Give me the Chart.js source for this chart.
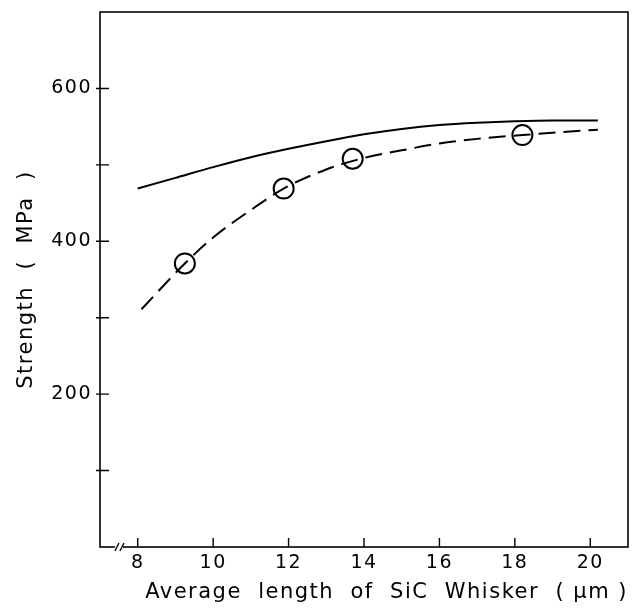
<!DOCTYPE html>
<html>
<head>
<meta charset="utf-8">
<script src="https://cdn.jsdelivr.net/npm/chart.js@4"></script>
<style>
  html, body { margin: 0; padding: 0; background: #fff; }
  #wrap { width: 632px; height: 608px; }
</style>
</head>
<body>
<div id="wrap"><canvas id="strengthChart" width="632" height="608"></canvas></div>
<script>
// Data
const solidX = [8, 9, 10, 11, 12, 13, 14, 15, 16, 17, 18, 19, 20.2];
const solidY = [469, 483, 497, 510, 521, 531, 540, 547, 552, 555, 557, 558, 558];

const dashX = [8.1, 9.25, 10, 11, 11.87, 13, 14, 15, 16, 17, 18.2, 19, 20.2];
const dashY = [311, 371, 405, 441, 469, 494, 509, 519, 528, 534, 539, 542, 546];

const circleX = [9.25, 11.87, 13.7, 18.2];
const circleY = [371, 469, 508, 539];

const xTicks = [8, 10, 12, 14, 16, 18, 20];
const yTicks = [100, 200, 300, 400, 500, 600];
const yLabels = [200, 400, 600];

const toPoints = (xs, ys) => xs.map((x, i) => ({ x: x, y: ys[i] }));

// Frame, inward ticks and axis break mark
const framePlugin = {
    id: 'frame',
    beforeDraw(chart) {
        chart.ctx.letterSpacing = '1.5px';
    },
    afterDraw(chart) {
        const ctx = chart.ctx;
        const area = chart.chartArea;
        const xs = chart.scales.x;
        const ys = chart.scales.y;
        ctx.save();
        ctx.letterSpacing = '0px';
        ctx.strokeStyle = '#000';
        ctx.lineWidth = 1.6;
        ctx.strokeRect(area.left, area.top, area.right - area.left, area.bottom - area.top);

        ctx.lineWidth = 1.4;
        ctx.beginPath();
        xTicks.forEach(v => {
            const px = xs.getPixelForValue(v);
            ctx.moveTo(px, area.bottom);
            ctx.lineTo(px, area.bottom - 9);
        });
        yTicks.forEach(v => {
            const py = ys.getPixelForValue(v);
            ctx.moveTo(area.left - 4, py);
            ctx.lineTo(area.left + 9, py);
        });
        ctx.stroke();

        // break mark "//"
        const bx = xs.getPixelForValue(7.45);
        ctx.fillStyle = '#fff';
        ctx.fillRect(bx - 2, area.bottom - 2, 8, 4);
        ctx.beginPath();
        [0, 5].forEach(d => {
            ctx.moveTo(bx + d - 2, area.bottom + 4);
            ctx.lineTo(bx + d + 2, area.bottom - 4);
        });
        ctx.stroke();
        ctx.restore();
    }
};

const ctx = document.getElementById('strengthChart').getContext('2d');
const strengthChart = new Chart(ctx, {
    type: 'scatter',
    data: {
        datasets: [
            {
                label: 'calculated',
                data: toPoints(solidX, solidY),
                showLine: true,
                borderColor: '#000',
                borderWidth: 2,
                pointRadius: 0,
                cubicInterpolationMode: 'monotone'
            },
            {
                label: 'fit',
                data: toPoints(dashX, dashY),
                showLine: true,
                borderColor: '#000',
                borderWidth: 2,
                borderDash: [17, 8],
                pointRadius: 0,
                cubicInterpolationMode: 'monotone'
            },
            {
                label: 'measured',
                data: toPoints(circleX, circleY),
                showLine: false,
                pointRadius: 10,
                pointBackgroundColor: '#fff',
                pointBorderColor: '#000',
                pointBorderWidth: 2
            }
        ]
    },
    options: {
        responsive: false,
        animation: false,
        layout: { autoPadding: false, padding: { top: 12, right: 4, left: 0, bottom: 0 } },
        plugins: {
            legend: { display: false },
            tooltip: { enabled: false }
        },
        scales: {
            x: {
                type: 'linear',
                min: 7,
                max: 21,
                afterFit: scale => {
                    scale.height = 61;
                    scale.paddingLeft = 0;
                    scale.paddingRight = 0;
                },
                afterBuildTicks: scale => { scale.ticks = xTicks.map(v => ({ value: v })); },
                grid: { display: false },
                border: { display: false },
                ticks: {
                    color: '#000',
                    padding: -3,
                    font: { family: 'DejaVu Sans', size: 19 }
                },
                title: {
                    display: true,
                    text: 'Average  length  of  SiC  Whisker  ( μm )',
                    align: 'end',
                    color: '#000',
                    padding: { top: 0, bottom: 3 },
                    font: { family: 'DejaVu Sans', size: 21 }
                }
            },
            y: {
                min: 0,
                max: 700,
                afterFit: scale => {
                    scale.width = 100;
                    scale.paddingTop = 0;
                    scale.paddingBottom = 0;
                },
                afterBuildTicks: scale => { scale.ticks = yLabels.map(v => ({ value: v })); },
                grid: { display: false },
                border: { display: false },
                ticks: {
                    color: '#000',
                    padding: 0,
                    font: { family: 'DejaVu Sans', size: 19 }
                },
                title: {
                    display: true,
                    text: 'Strength  (  MPa  )',
                    color: '#000',
                    padding: { top: 14, bottom: 0 },
                    font: { family: 'DejaVu Sans', size: 21 }
                }
            }
        }
    },
    plugins: [framePlugin]
});
</script>
</body>
</html>
